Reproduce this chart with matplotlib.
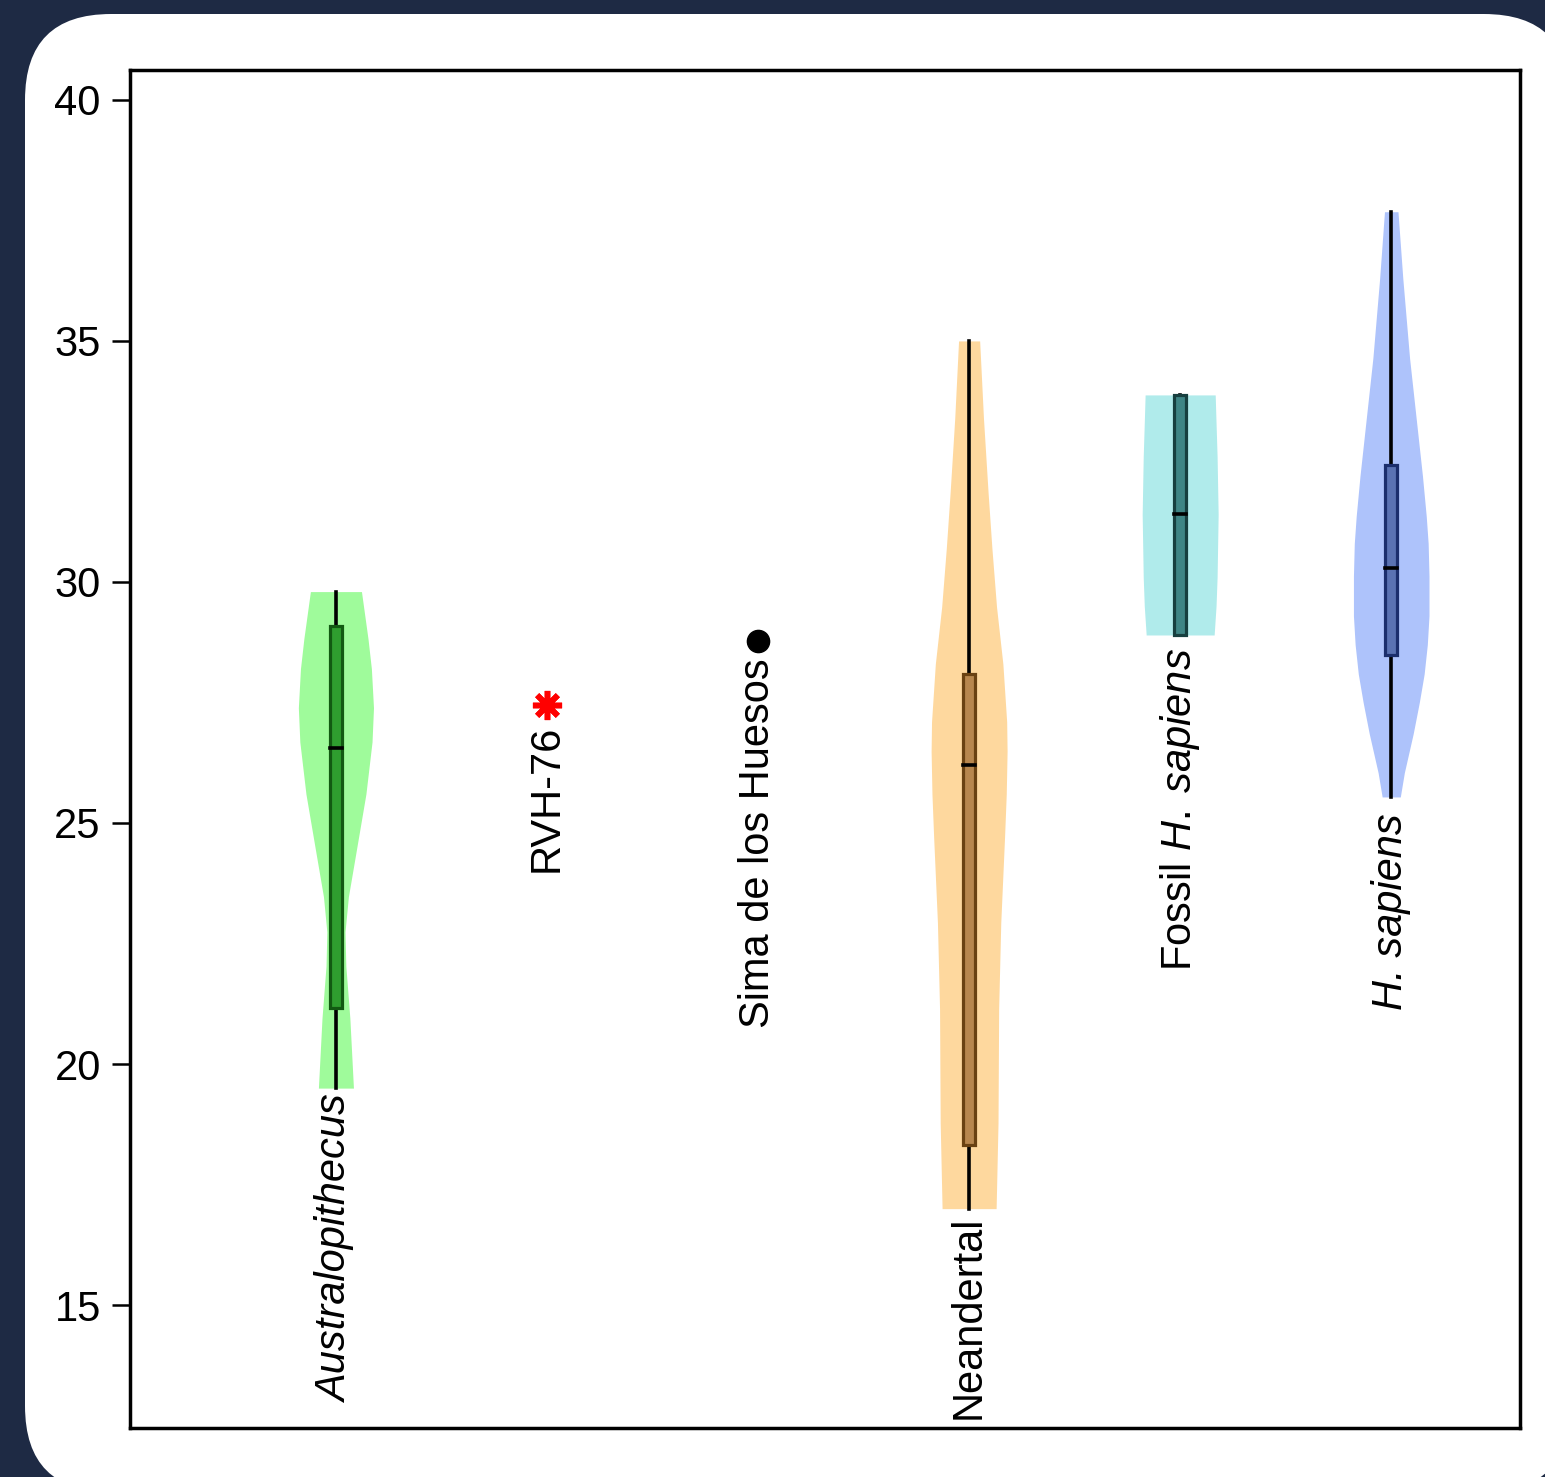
import numpy as np
import matplotlib
matplotlib.use("Agg")
import matplotlib.pyplot as plt
from matplotlib.patches import FancyBboxPatch, Rectangle

plt.rcParams['font.family'] = ['Liberation Sans', 'DejaVu Sans']
plt.rcParams['mathtext.fontset'] = 'custom'
plt.rcParams['mathtext.rm'] = 'Liberation Sans'
plt.rcParams['mathtext.it'] = 'Liberation Sans:italic'

# group labels, styles and x positions
labels = ['Australopithecus', 'RVH-76', 'Sima de los Huesos',
          'Neandertal', r'Fossil $\it{H.\;sapiens}$', 'H. sapiens']
label_styles = ['italic', 'normal', 'normal', 'normal', 'normal', 'italic']
positions = [1, 2, 3, 4, 5, 6]

# violin outlines: value levels and half widths
austr_levels = [19.5, 20.95, 22.03, 22.74, 23.47, 24.52, 25.60, 26.68, 27.39, 28.2, 28.82, 29.8]
austr_half = [0.083, 0.066, 0.047, 0.043, 0.059, 0.100, 0.142, 0.171, 0.178, 0.168, 0.152, 0.121]
neand_levels = [17.0, 18.78, 21.14, 22.93, 24.71, 25.6, 26.49, 27.10, 28.3, 29.48, 30.7, 31.85, 33.4, 35.0]
neand_half = [0.128, 0.137, 0.140, 0.150, 0.168, 0.176, 0.180, 0.178, 0.160, 0.130, 0.108, 0.090, 0.068, 0.050]
fossil_levels = [28.9, 29.5, 30.1, 31.4, 32.6, 33.3, 33.88]
fossil_half = [0.161, 0.170, 0.175, 0.180, 0.175, 0.170, 0.166]
sap_levels = [25.54, 26.04, 26.85, 27.5, 28.09, 28.7, 29.3, 30.12, 30.8, 31.36, 32.2, 33.0, 34.64, 36.29, 37.68]
sap_half = [0.043, 0.062, 0.104, 0.133, 0.156, 0.171, 0.179, 0.179, 0.175, 0.166, 0.148, 0.128, 0.087, 0.055, 0.032]

# box stats: min, q1, median, q3, max
austr_stats = [19.5, 21.16, 26.56, 29.09, 29.8]
neand_stats = [17.0, 18.32, 26.20, 28.09, 35.0]
fossil_stats = [28.9, 28.9, 31.4, 33.88, 33.88]
sap_stats = [25.54, 28.49, 30.29, 32.43, 37.68]

# single specimens
rvh_value = 27.45
sima_value = 28.78

violin_colors = ['#9ffb9b', '#fed89e', '#b0ebeb', '#aec3fb']
box_colors = ['#2f9e2f', '#b8874e', '#3f8585', '#5a72b2']
edge_colors = ['#125a12', '#6a4212', '#173f3f', '#1b2e6c']

fig = plt.figure(figsize=(15.45, 14.77), dpi=100)
fig.patch.set_facecolor('#1e2a44')
panel = FancyBboxPatch((0.25, -0.15), 15.45, 14.78,
                       boxstyle='round,pad=0,rounding_size=0.86',
                       transform=fig.dpi_scale_trans, facecolor='white',
                       edgecolor='none', zorder=-5)
fig.patches.append(panel)

ax = fig.add_axes([0.0841, 0.0332, 0.8997, 0.9194])
ax.set_zorder(2)
ax.set_facecolor('white')

violins = [(1, austr_levels, austr_half, austr_stats),
           (4, neand_levels, neand_half, neand_stats),
           (5, fossil_levels, fossil_half, fossil_stats),
           (6, sap_levels, sap_half, sap_stats)]

box_half = 0.028
for i, (x, lev, half, st) in enumerate(violins):
    lev = np.array(lev)
    half = np.array(half)
    ax.fill_betweenx(lev, x - half, x + half, color=violin_colors[i], lw=0, zorder=1)
    ax.plot([x, x], [st[0], st[4]], color='black', lw=2.6, zorder=2)
    ax.add_patch(Rectangle((x - box_half, st[1]), 2 * box_half, st[3] - st[1],
                           facecolor=box_colors[i], edgecolor=edge_colors[i],
                           lw=2.3, zorder=3))
    ax.plot([x - box_half, x + box_half], [st[2], st[2]], color='black', lw=2.6, zorder=4)

ax.plot(2, rvh_value, marker=(8, 2, 0), color='red', ms=21, mew=4, zorder=5)
ax.plot(3, sima_value, marker='o', color='black', ms=16, zorder=5)

mins = [austr_stats[0], rvh_value, sima_value, neand_stats[0], fossil_stats[0], sap_stats[0]]
offsets = [-5, -14, -13, -5, -9, -12]
for x, lab, st, m, off in zip(positions, labels, label_styles, mins, offsets):
    ax.annotate(lab, (x, m), xytext=(0, off), textcoords='offset points',
                rotation=90, ha='center', va='top', fontsize=30, fontstyle=st, zorder=6)

ax.set_xlim(0.024, 6.61)
ax.set_ylim(12.45, 40.62)
ax.set_xticks([])
ax.set_yticks([15, 20, 25, 30, 35, 40])
ax.tick_params(axis='y', labelsize=30, length=13, width=1.8, pad=8)
for s in ax.spines.values():
    s.set_linewidth(2.5)

fig.savefig('out.png', dpi=100, facecolor=fig.get_facecolor())
